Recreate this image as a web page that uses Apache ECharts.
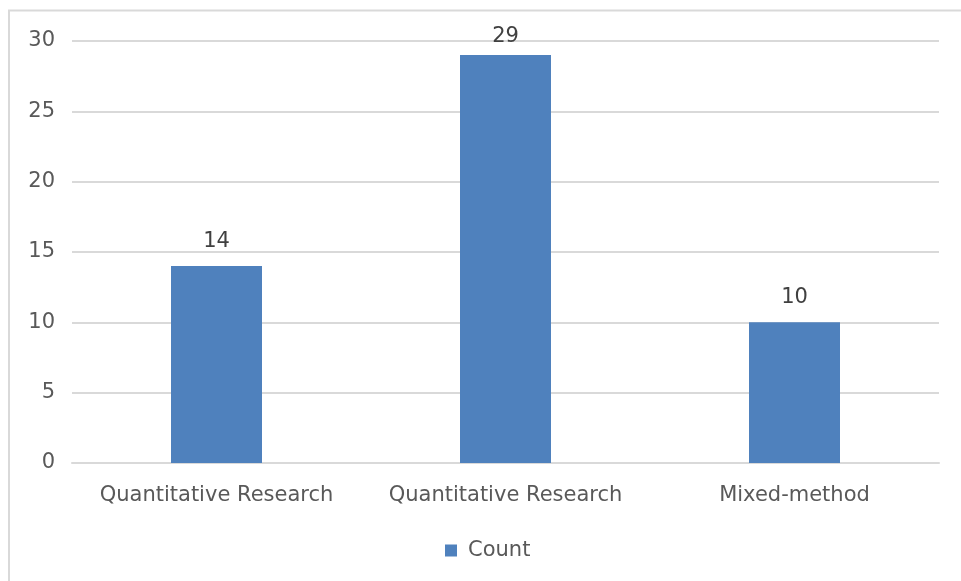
<!DOCTYPE html>
<html>
<head>
<meta charset="utf-8">
<script src="https://cdn.jsdelivr.net/npm/echarts@6/dist/echarts.min.js"></script>
<style>
  html, body { margin: 0; padding: 0; background: #fff; }
  #chart { width: 961px; height: 581px; }
</style>
</head>
<body>
<div id="chart"></div>
<script>
// Study design counts
var categories = ['Quantitative Research', 'Quantitative Research', 'Mixed-method'];
var counts = [14, 29, 10];
var seriesName = 'Count';
var yTicks = { min: 0, max: 30, interval: 5 };

var chart = echarts.init(document.getElementById('chart'), null, { renderer: 'canvas' });
var font = '"DejaVu Sans", "Liberation Sans", Arial, sans-serif';

// Labels of bars reaching close to the top of the plot sit a bit lower
var barData = counts.map(function (v) {
  return v >= yTicks.max - 2 ? { value: v, label: { distance: 8 } } : v;
});

chart.setOption({
  animation: false,
  backgroundColor: '#ffffff',
  graphic: [
    {
      type: 'polyline',
      shape: { points: [[9, 600], [9, 10.5], [980, 10.5]] },
      style: { stroke: '#d9d9d9', lineWidth: 2, fill: null },
      silent: true
    }
  ],
  grid: { left: 72, right: 22, top: 41, bottom: 118, containLabel: false },
  legend: {
    top: 535,
    left: 440,
    itemWidth: 12,
    itemHeight: 12,
    icon: 'rect',
    itemGap: 10,
    textStyle: { fontFamily: font, fontSize: 21, color: '#595959', padding: [0, 0, 0, 6] },
    data: [seriesName]
  },
  xAxis: {
    type: 'category',
    data: categories,
    axisLine: { show: true, lineStyle: { color: '#d9d9d9', width: 2 } },
    axisTick: { show: false },
    axisLabel: { fontFamily: font, fontSize: 21, color: '#595959', margin: 22, interval: 0 }
  },
  yAxis: {
    type: 'value',
    min: yTicks.min,
    max: yTicks.max,
    interval: yTicks.interval,
    axisLine: { show: false },
    axisTick: { show: false },
    axisLabel: { fontFamily: font, fontSize: 21, color: '#595959', margin: 17 },
    splitLine: { lineStyle: { color: '#d9d9d9', width: 2 } }
  },
  series: [
    {
      name: seriesName,
      type: 'bar',
      data: barData,
      barWidth: 91,
      itemStyle: { color: '#4f81bd' },
      label: {
        show: true,
        position: 'top',
        distance: 14,
        fontFamily: font,
        fontSize: 21,
        color: '#404040'
      }
    }
  ]
});
</script>
</body>
</html>
